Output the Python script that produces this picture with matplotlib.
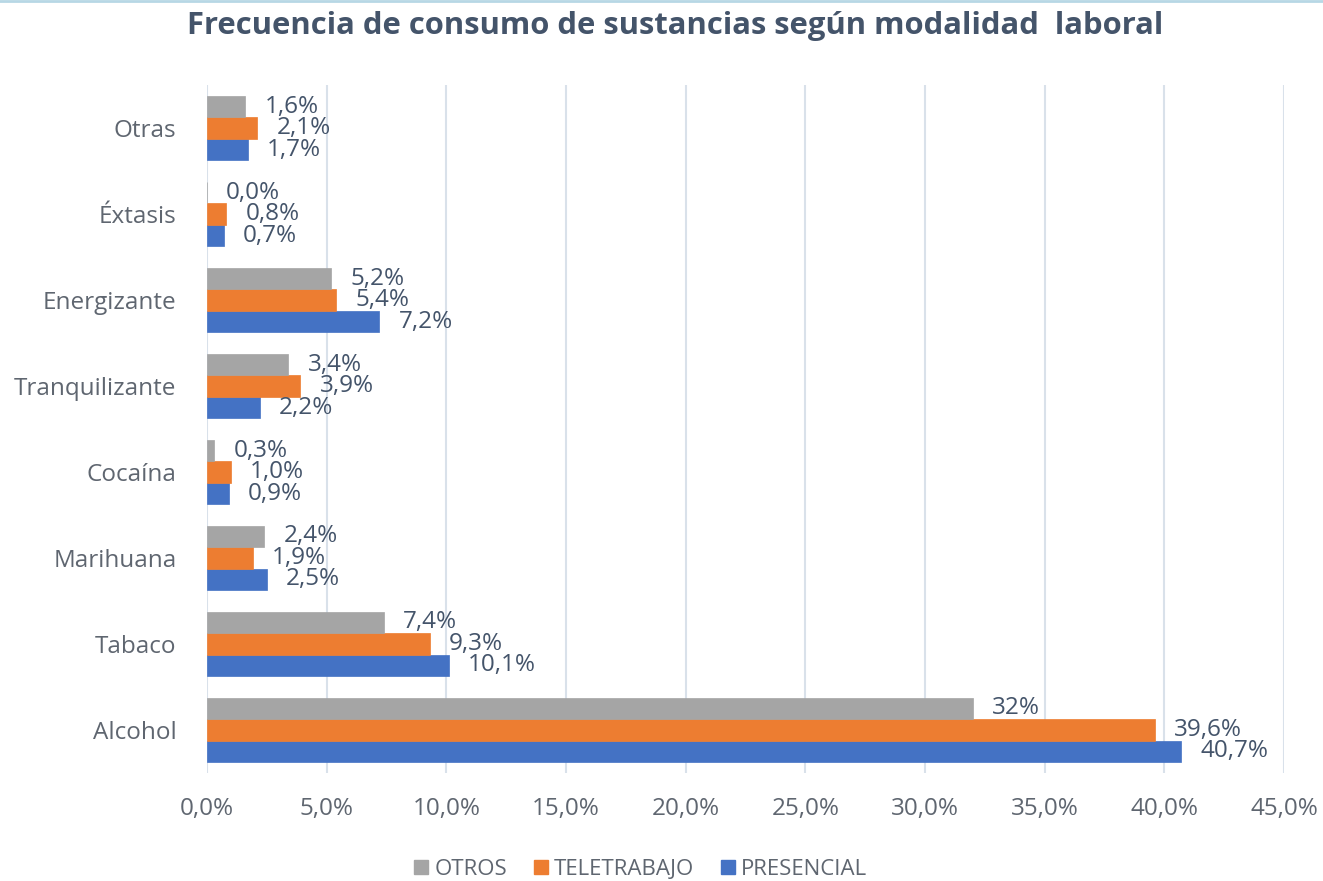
import numpy as np
import matplotlib.pyplot as plt
from matplotlib.lines import Line2D

# datos
categorias = ["Alcohol", "Tabaco", "Marihuana", "Cocaína", "Tranquilizante",
              "Energizante", "Éxtasis", "Otras"]
otros = [32.0, 7.4, 2.4, 0.3, 3.4, 5.2, 0.0, 1.6]
teletrabajo = [39.6, 9.3, 1.9, 1.0, 3.9, 5.4, 0.8, 2.1]
presencial = [40.7, 10.1, 2.5, 0.9, 2.2, 7.2, 0.7, 1.7]
etiquetas_otros = ["32%", "7,4%", "2,4%", "0,3%", "3,4%", "5,2%", "0,0%", "1,6%"]
ticks_x = [0, 5, 10, 15, 20, 25, 30, 35, 40, 45]

plt.rcParams['font.family'] = ['Open Sans', 'DejaVu Sans']

fig = plt.figure(figsize=(13.23, 8.81), dpi=100)
ax = fig.add_axes([0.1565, 0.1226, 0.814, 0.7809])

texto = '#44546A'
gris_txt = '#5F6670'
y = np.arange(len(categorias))
h = 0.25

series = [
    (presencial, -h, '#4472C4', 'PRESENCIAL'),
    (teletrabajo, 0, '#ED7D31', 'TELETRABAJO'),
    (otros, h, '#A5A5A5', 'OTROS'),
]

for vals, off, col, nombre in series:
    ax.barh(y + off, vals, height=h, color=col, edgecolor=col, linewidth=0.5,
            zorder=3, label=nombre)

def fmt(v):
    return ("%.1f%%" % v).replace('.', ',')

fs = 17.5
for i in range(len(categorias)):
    ax.text(otros[i] + 0.8, y[i] + h, etiquetas_otros[i], va='center', ha='left',
            fontsize=fs, color=texto, zorder=4)
    ax.text(teletrabajo[i] + 0.8, y[i], fmt(teletrabajo[i]), va='center', ha='left',
            fontsize=fs, color=texto, zorder=4)
    ax.text(presencial[i] + 0.8, y[i] - h, fmt(presencial[i]), va='center', ha='left',
            fontsize=fs, color=texto, zorder=4)

ax.set_xlim(0, 45)
ax.set_ylim(-0.5, 7.5)
ax.set_xticks(ticks_x)
ax.set_xticklabels([fmt(t) for t in ticks_x])
ax.set_yticks(y)
ax.set_yticklabels(categorias)
ax.tick_params(axis='both', length=0, labelsize=17.5, colors=gris_txt)
ax.tick_params(axis='x', pad=17)
ax.tick_params(axis='y', pad=22)
ax.grid(axis='x', color='#D9E1EA', linewidth=1.5, zorder=0)
for s in ax.spines.values():
    s.set_visible(False)

fig.suptitle("Frecuencia de consumo de sustancias según modalidad  laboral",
             x=0.51, y=0.987, fontsize=22.3, fontweight='bold', color=texto)

handles = [Line2D([], [], marker='s', linestyle='none', markersize=10,
                  color=c, label=n) for c, n in
           [('#A5A5A5', 'OTROS'), ('#ED7D31', 'TELETRABAJO'), ('#4472C4', 'PRESENCIAL')]]
leg = fig.legend(handles=handles, loc='center', bbox_to_anchor=(0.482, 0.013),
                 ncol=3, frameon=False, fontsize=16, handletextpad=0.0,
                 handlelength=1.2, columnspacing=0.9)
for t in leg.get_texts():
    t.set_color(gris_txt)

fig.add_artist(Line2D([0, 1], [0.999, 0.999], color='#B7D7E5', linewidth=2,
                      transform=fig.transFigure))

fig.savefig("out.png", dpi=100)
